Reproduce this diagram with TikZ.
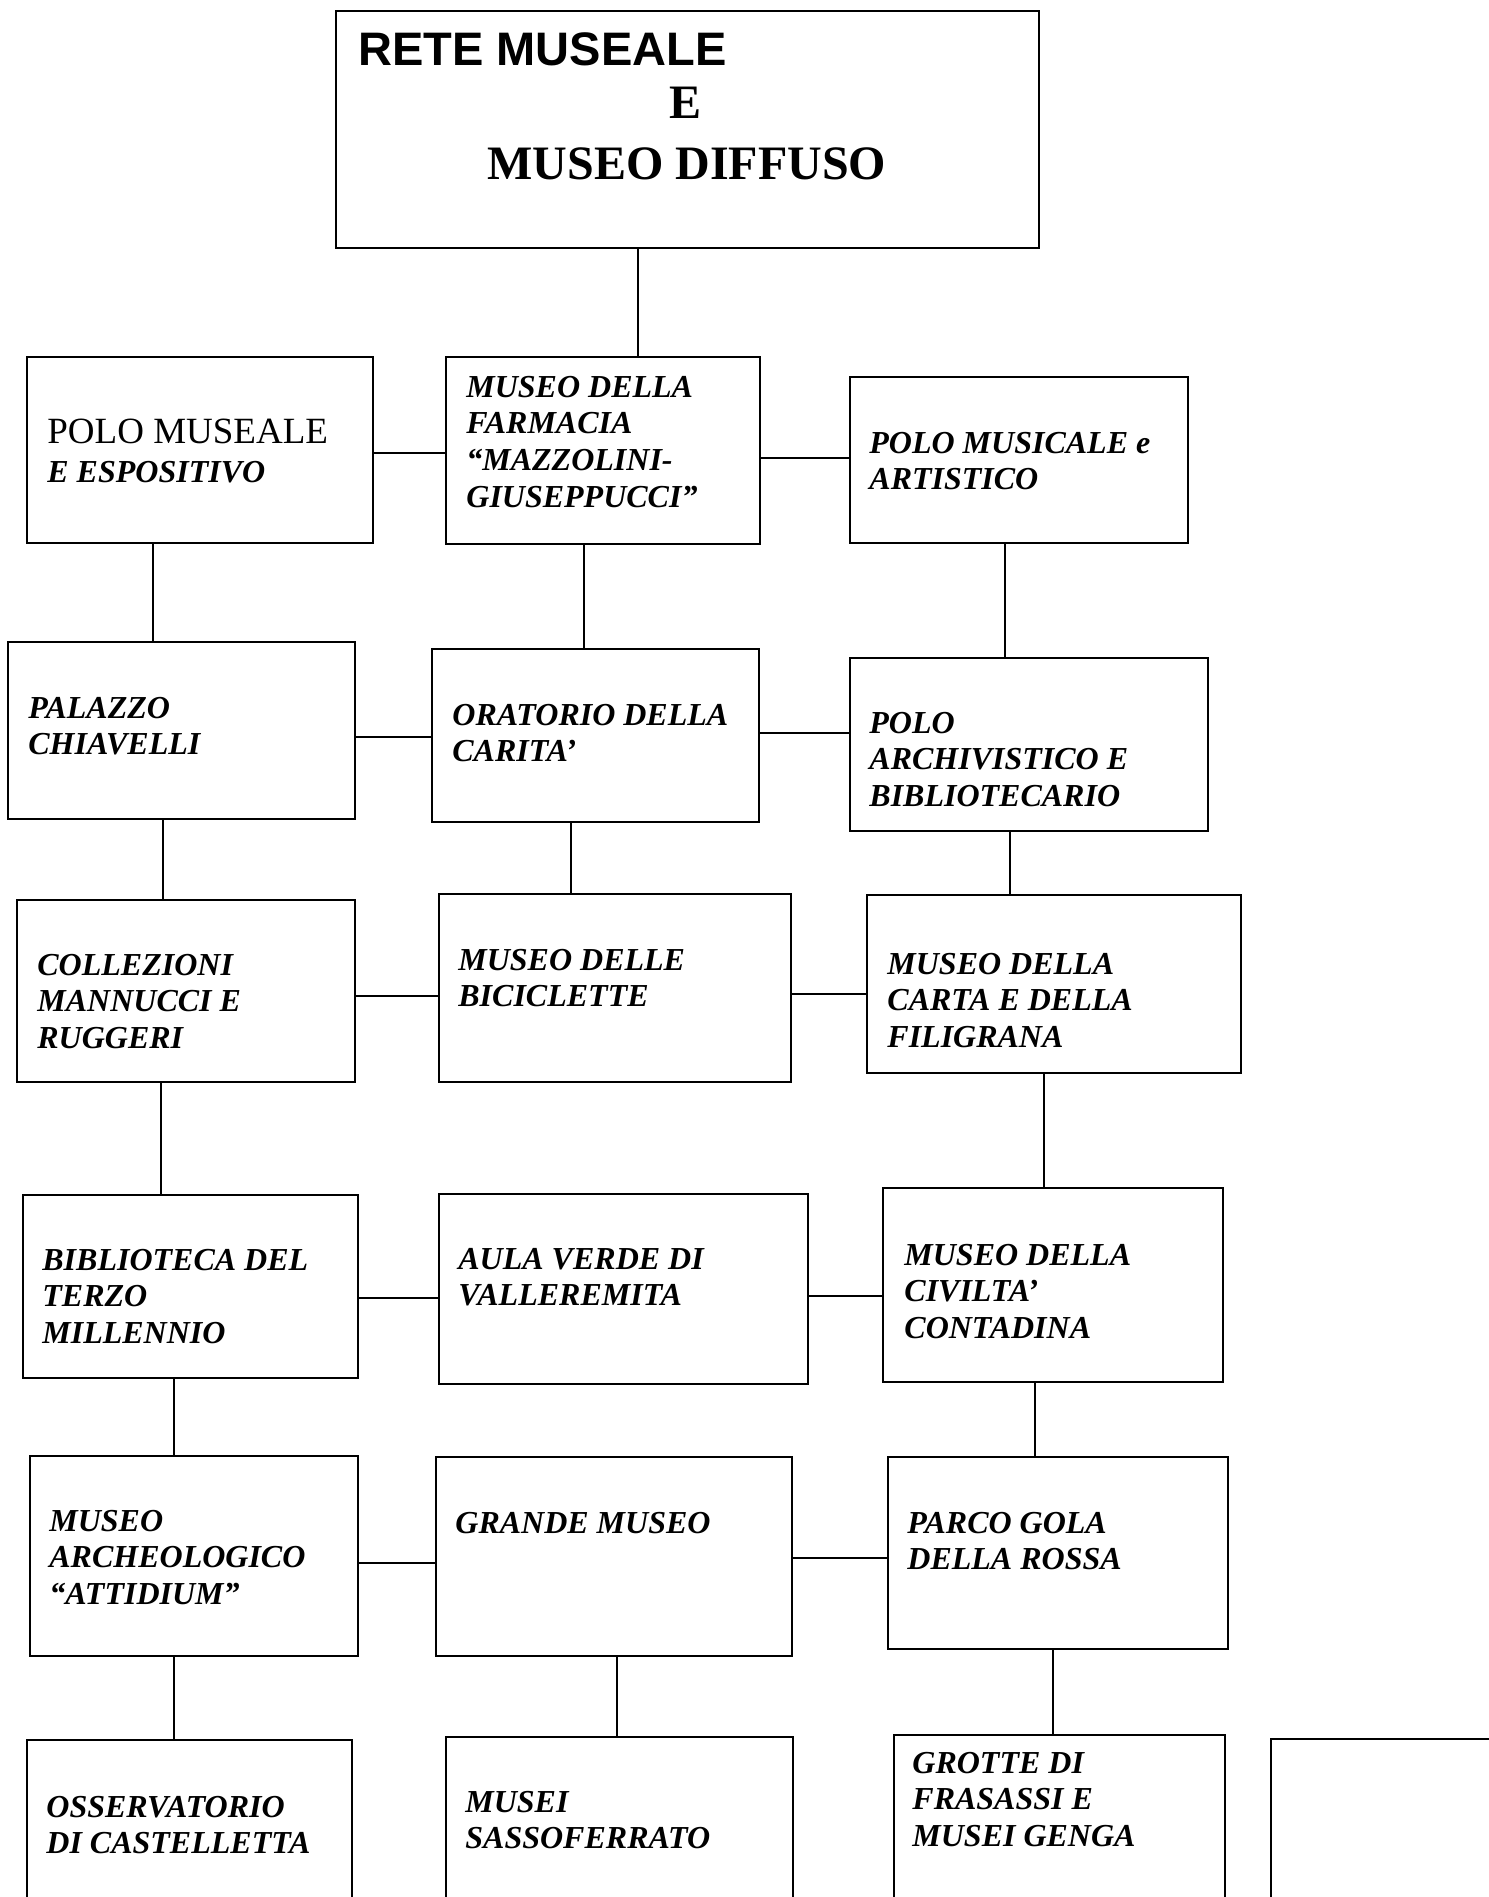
\documentclass[tikz,border=0pt]{standalone}
\usepackage{fontspec}
\setmainfont{Liberation Serif}
\newfontfamily\arialfont{Liberation Sans}
\newcommand{\mlines}[1]{\begin{tabular}[t]{@{}l@{}}#1\end{tabular}}
\begin{document}
\begin{tikzpicture}[x=0.5pt,y=-0.5pt,
  box/.style={draw, line width=1pt, rectangle, inner sep=0pt, anchor=north west},
  conn/.style={line width=0.85pt},
  lbl/.style={anchor=base west, inner sep=0pt, font=\fontsize{16}{18.4}\selectfont\bfseries\itshape}]
\useasboundingbox (0,0) rectangle (1489,1897);
\clip (0,0) rectangle (1489,1897);
\fill[white] (0,0) rectangle (1489,1897);

% boxes
\node[box, minimum width=351.5pt, minimum height=118.5pt] (top) at (335,10) {};
\node[box, minimum width=173pt, minimum height=93pt] (polo) at (26,356) {};
\node[box, minimum width=157pt, minimum height=93.5pt] (farm) at (445,356) {};
\node[box, minimum width=169pt, minimum height=83pt] (music) at (849,376) {};
\node[box, minimum width=173.5pt, minimum height=88.5pt] (pal) at (7,641) {};
\node[box, minimum width=163.5pt, minimum height=86.5pt] (orat) at (431,648) {};
\node[box, minimum width=179pt, minimum height=86.5pt] (arch) at (849,657) {};
\node[box, minimum width=169pt, minimum height=91pt] (coll) at (16,899) {};
\node[box, minimum width=176pt, minimum height=94pt] (bici) at (438,893) {};
\node[box, minimum width=187pt, minimum height=89pt] (carta) at (866,894) {};
\node[box, minimum width=167.5pt, minimum height=91.5pt] (bibl) at (22,1194) {};
\node[box, minimum width=184.5pt, minimum height=95pt] (aula) at (438,1193) {};
\node[box, minimum width=170pt, minimum height=97pt] (civ) at (882,1187) {};
\node[box, minimum width=164pt, minimum height=100pt] (arche) at (29,1455) {};
\node[box, minimum width=178pt, minimum height=99.5pt] (grande) at (435,1456) {};
\node[box, minimum width=170pt, minimum height=96pt] (parco) at (887,1456) {};
\node[box, minimum width=162.5pt, minimum height=110.5pt] (oss) at (26,1739) {};
\node[box, minimum width=173.5pt, minimum height=112pt] (sasso) at (445,1736) {};
\node[box, minimum width=165.5pt, minimum height=113pt] (grotte) at (893,1734) {};
\node[box, minimum width=145pt, minimum height=111pt] (empty) at (1270,1738) {};

% connectors
\draw[conn] ([xshift=-24.75pt]top.south) -- ([xshift=-24.75pt]top.south |- farm.north);
\draw[conn] ([yshift=-1.5pt]polo.east) -- ([yshift=-1.5pt]polo.east -| farm.west);
\draw[conn] ([yshift=-3.75pt]farm.east) -- ([yshift=-3.75pt]farm.east -| music.west);
\draw[conn] ([xshift=-23.5pt]polo.south) -- ([xshift=-23.5pt]polo.south |- pal.north);
\draw[conn] ([xshift=-9.5pt]farm.south) -- ([xshift=-9.5pt]farm.south |- orat.north);
\draw[conn] ([xshift=-7pt]music.south) -- ([xshift=-7pt]music.south |- arch.north);
\draw[conn] ([yshift=-3.25pt]pal.east) -- ([yshift=-3.25pt]pal.east -| orat.west);
\draw[conn] ([yshift=1.25pt]orat.east) -- ([yshift=1.25pt]orat.east -| arch.west);
\draw[conn] ([xshift=-9.25pt]pal.south) -- ([xshift=-9.25pt]pal.south |- coll.north);
\draw[conn] ([xshift=-12.25pt]orat.south) -- ([xshift=-12.25pt]orat.south |- bici.north);
\draw[conn] ([xshift=-9.5pt]arch.south) -- ([xshift=-9.5pt]arch.south |- carta.north);
\draw[conn] ([yshift=-2.5pt]coll.east) -- ([yshift=-2.5pt]coll.east -| bici.west);
\draw[conn] ([yshift=-3pt]bici.east) -- ([yshift=-3pt]bici.east -| carta.west);
\draw[conn] ([xshift=-12.5pt]coll.south) -- ([xshift=-12.5pt]coll.south |- bibl.north);
\draw[conn] ([xshift=-5pt]carta.south) -- ([xshift=-5pt]carta.south |- civ.north);
\draw[conn] ([yshift=-5.75pt]bibl.east) -- ([yshift=-5.75pt]bibl.east -| aula.west);
\draw[conn] ([yshift=-3.5pt]aula.east) -- ([yshift=-3.5pt]aula.east -| civ.west);
\draw[conn] ([xshift=-8.25pt]bibl.south) -- ([xshift=-8.25pt]bibl.south |- arche.north);
\draw[conn] ([xshift=-9pt]civ.south) -- ([xshift=-9pt]civ.south |- parco.north);
\draw[conn] ([yshift=-3.5pt]arche.east) -- ([yshift=-3.5pt]arche.east -| grande.west);
\draw[conn] ([yshift=-0.75pt]grande.east) -- ([yshift=-0.75pt]grande.east -| parco.west);
\draw[conn] ([xshift=-10pt]arche.south) -- ([xshift=-10pt]arche.south |- oss.north);
\draw[conn] ([xshift=1.5pt]grande.south) -- ([xshift=1.5pt]grande.south |- sasso.north);
\draw[conn] ([xshift=-2.5pt]parco.south) -- ([xshift=-2.5pt]parco.south |- grotte.north);

% title texts
\node[anchor=base west, inner sep=0pt, font=\arialfont\bfseries\fontsize{23.5}{27}\selectfont] (t1) at (358,65) {RETE MUSEALE};
\node[anchor=base, inner sep=0pt, font=\bfseries\fontsize{24}{27}\selectfont] (t2) at (686,118) {E};
\node[anchor=base west, inner sep=0pt, font=\bfseries\fontsize{24}{27}\selectfont] (t3) at (487,179) {MUSEO DIFFUSO};

% box texts
\node[anchor=base west, inner sep=0pt, font=\fontsize{18.5}{21}\selectfont] (lpolo1) at (47,443) {POLO MUSEALE};
\node[lbl] (lpolo2) at (47,482) {E ESPOSITIVO};
\node[lbl] (lfarm) at (466,397) {\mlines{MUSEO DELLA\\FARMACIA\\“MAZZOLINI-\\GIUSEPPUCCI”}};
\node[lbl] (lmusic) at (869,453) {\mlines{POLO MUSICALE e\\ARTISTICO}};
\node[lbl] (larch) at (869,733) {\mlines{POLO\\ARCHIVISTICO E\\BIBLIOTECARIO}};
\node[lbl] (lpal) at (28,718) {\mlines{PALAZZO\\CHIAVELLI}};
\node[lbl] (lorat) at (452,725) {\mlines{ORATORIO DELLA\\CARITA’}};
\node[lbl] (lcoll) at (37,975) {\mlines{COLLEZIONI\\MANNUCCI E\\RUGGERI}};
\node[lbl] (lbici) at (458,970) {\mlines{MUSEO DELLE\\BICICLETTE}};
\node[lbl] (lcarta) at (887,974) {\mlines{MUSEO DELLA\\CARTA E DELLA\\FILIGRANA}};
\node[lbl] (lbibl) at (42,1270) {\mlines{BIBLIOTECA DEL\\TERZO\\MILLENNIO}};
\node[lbl] (laula) at (458,1269) {\mlines{AULA VERDE DI\\VALLEREMITA}};
\node[lbl] (lciv) at (904,1265) {\mlines{MUSEO DELLA\\CIVILTA’\\CONTADINA}};
\node[lbl] (larche) at (49,1531) {\mlines{MUSEO\\ARCHEOLOGICO\\“ATTIDIUM”}};
\node[lbl] (lgrande) at (455,1533) {GRANDE MUSEO};
\node[lbl] (lparco) at (907,1533) {\mlines{PARCO GOLA\\DELLA ROSSA}};
\node[lbl] (loss) at (46,1817) {\mlines{OSSERVATORIO\\DI CASTELLETTA}};
\node[lbl] (lsasso) at (465,1812) {\mlines{MUSEI\\SASSOFERRATO}};
\node[lbl] (lgrotte) at (912,1773) {\mlines{GROTTE DI\\FRASASSI E\\MUSEI GENGA}};
\end{tikzpicture}
\end{document}
